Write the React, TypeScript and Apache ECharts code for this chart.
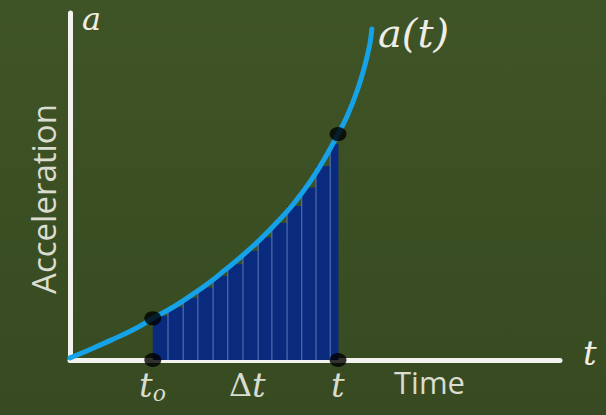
import React, { useEffect, useRef } from "react";
import * as echarts from "echarts";

// Curve a(t) (data units 0..100 on both axes)
const curveT = [0, 4.7, 8.8, 12.9, 16.9, 21.0, 25.1, 28.6, 31.6, 34.7, 38.2, 41.4, 44.5, 46.5, 49.0, 51.4, 54.7, 56.5, 58.6, 60.2, 61.2, 61.6];
const curveA = [0.6, 3.4, 6.0, 8.7, 12.0, 15.2, 19.0, 22.5, 25.9, 29.5, 33.9, 38.4, 43.1, 46.6, 51.4, 56.7, 65.1, 70.1, 77.6, 85.0, 91.1, 95.4];

// Riemann strips: left edge, right edge, height
const stripStart = [16.9, 20.0, 23.1, 26.1, 29.2, 32.2, 35.3, 38.4, 41.2, 44.3, 47.3, 50.2, 53.1];
const stripEnd = [20.0, 23.1, 26.1, 29.2, 32.2, 35.3, 38.4, 41.2, 44.3, 47.3, 50.2, 53.1, 54.7];
const stripHeight = [12.7, 15.2, 17.9, 20.9, 24.2, 27.6, 31.4, 35.4, 39.5, 44.4, 49.7, 55.9, 62.2];

// Marked points
const dotT = [16.9, 54.7, 16.9, 54.7];
const dotA = [12.0, 65.1, 0, 0];

export default function App() {
  const ref = useRef<HTMLDivElement>(null);
  useEffect(() => {
    document.body.style.margin = "0";
    const chart = echarts.init(ref.current!, null, { renderer: "svg" });
    const textColor = "#eeeee6";
    const labelColor = "#d9dccf";
    const serif = "'DejaVu Serif'";
    chart.setOption({
      animation: false,
      backgroundColor: {
        type: "linear",
        x: 0, y: 0, x2: 0, y2: 1,
        colorStops: [
          { offset: 0, color: "#3f5426" },
          { offset: 1, color: "#374a21" },
        ],
      },
      grid: { left: 70, right: 46, top: 13, bottom: 55 },
      xAxis: {
        type: "value", min: 0, max: 100,
        axisLine: { show: true, lineStyle: { color: "#f2f2ee", width: 5 } },
        axisTick: { show: false }, axisLabel: { show: false }, splitLine: { show: false },
      },
      yAxis: {
        type: "value", min: 0, max: 100,
        axisLine: { show: true, lineStyle: { color: "#f2f2ee", width: 5 } },
        axisTick: { show: false }, axisLabel: { show: false }, splitLine: { show: false },
      },
      series: [
        {
          type: "custom",
          data: stripStart.map((s, i) => [s, stripEnd[i], stripHeight[i]]),
          renderItem: (params: any, api: any) => {
            const p0 = api.coord([api.value(0), api.value(2)]);
            const p1 = api.coord([api.value(1), 0]);
            const children: any[] = [
              {
                type: "rect",
                shape: { x: p0[0], y: p0[1], width: p1[0] - p0[0] + 0.5, height: p1[1] - p0[1] },
                style: { fill: "#0a2a7e" },
              },
            ];
            if (params.dataIndex > 0) {
              children.push({
                type: "line",
                shape: { x1: p0[0], y1: p0[1] + 2, x2: p0[0], y2: p1[1] },
                style: { stroke: "#5a7bb8", lineWidth: 1 },
              });
            }
            return { type: "group", children };
          },
          z: 1,
        },
        {
          type: "line",
          data: curveT.map((t, i) => [t, curveA[i]]),
          smooth: 0.4,
          showSymbol: false,
          lineStyle: { color: "#16a2e6", width: 5, cap: "round" },
          z: 3,
        },
        {
          type: "scatter",
          data: dotT.map((t, i) => [t, dotA[i]]),
          symbol: "circle",
          symbolSize: [17, 14],
          itemStyle: { color: "#000000" },
          z: 5,
        },
      ],
      graphic: [
        { type: "text", left: 82, top: 3, style: { text: "a", fill: textColor, font: `italic 32px ${serif}`, lineHeight: 32 } },
        { type: "text", left: 378, top: 13, style: { text: "a(t)", fill: textColor, font: `italic 40px ${serif}` } },
        { type: "text", left: 583, top: 336, style: { text: "t", fill: textColor, font: `italic 34px ${serif}` } },
        {
          type: "text", left: 139, top: 368,
          style: {
            text: "{t|t}{s|o}", fill: labelColor,
            rich: {
              t: { font: `italic 34px ${serif}`, fill: labelColor },
              s: { font: `italic 22px ${serif}`, fill: labelColor, padding: [16, 0, 0, 0] },
            },
          },
        },
        {
          type: "text", left: 229, top: 368,
          style: {
            text: "{d|Δ}{t|t}", fill: labelColor,
            rich: {
              d: { font: `32px ${serif}`, fill: labelColor },
              t: { font: `italic 34px ${serif}`, fill: labelColor },
            },
          },
        },
        { type: "text", left: 331, top: 368, style: { text: "t", fill: labelColor, font: `italic 34px ${serif}` } },
        { type: "text", left: 394, top: 366, style: { text: "Time", fill: labelColor, font: "31px 'Open Sans'" } },
        {
          type: "text", x: 43, y: 199, rotation: Math.PI / 2,
          style: { text: "Acceleration", fill: labelColor, font: "33px 'Open Sans'", align: "center", verticalAlign: "middle" },
        },
      ],
    });
    return () => chart.dispose();
  }, []);
  return <div ref={ref} style={{ width: 606, height: 415 }} />;
}
